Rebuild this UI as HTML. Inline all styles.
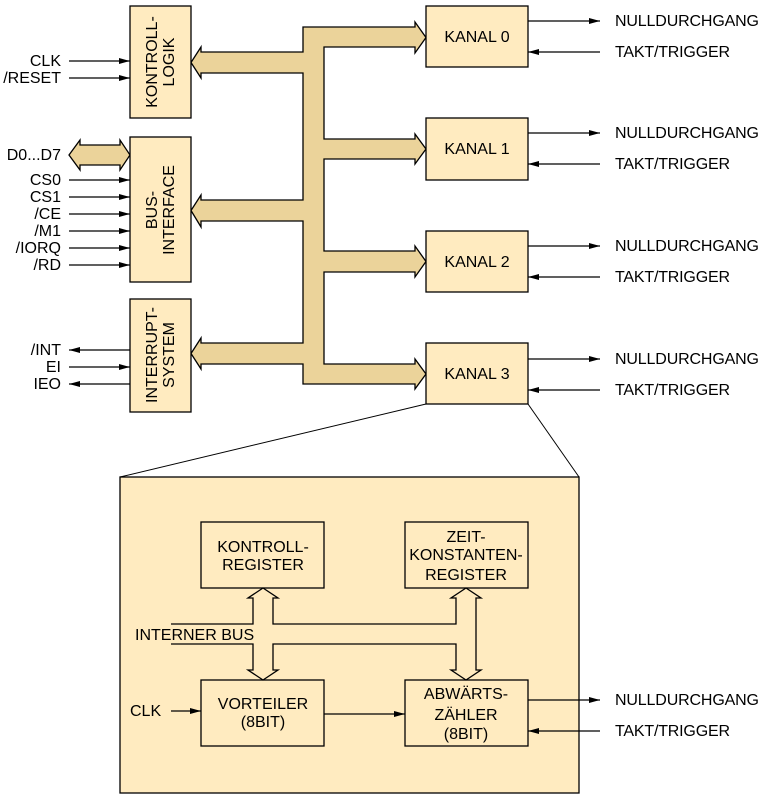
<!DOCTYPE html>
<html><head><meta charset="utf-8"><style>
html,body{margin:0;padding:0;background:#fff;}
svg{display:block;}
text{font-family:"Liberation Sans",Arial,sans-serif;font-size:16px;fill:#000;}
</style></head><body>
<svg width="764" height="804" viewBox="0 0 764 804" xmlns="http://www.w3.org/2000/svg">
<defs>
<marker id="ah" markerWidth="11" markerHeight="8" refX="11" refY="4" orient="auto" markerUnits="userSpaceOnUse">
<path d="M0,1 L11,4 L0,7 Z" fill="#000"/></marker>
</defs>
<g stroke="#000" stroke-width="1.3">
<path fill="#EBD39A" d="M303,27 H415 V22 L426,37.5 L415,53 V47 H324 V139 H415 V134 L426,149 L415,164 V159 H324 V251 H415 V246 L426,261.5 L415,277 V272 H324 V364 H415 V359 L426,374 L415,389 V384 H303 V364 H201 V369 L191,353.5 L201,338 V343 H303 V221 H201 V227 L191,210.5 L201,195 V200 H303 V73 H201 V78 L191,62.5 L201,47 V52 H303 Z"/>
<path fill="#EBD39A" d="M69,155 L80,140 V145 H120 V140 L130,155 L120,170 V165 H80 V170 Z"/>
<rect x="130" y="6" width="61" height="112" fill="#FFEBC0"/>
<rect x="130" y="137" width="61" height="145" fill="#FFEBC0"/>
<rect x="130" y="299" width="61" height="113" fill="#FFEBC0"/>
<rect x="426" y="6" width="102" height="61" fill="#FFEBC0"/>
<rect x="426" y="118" width="102" height="62" fill="#FFEBC0"/>
<rect x="426" y="231" width="102" height="61" fill="#FFEBC0"/>
<rect x="426" y="343" width="102" height="61" fill="#FFEBC0"/>
<line x1="426" y1="404" x2="120" y2="477" stroke-width="1"/>
<line x1="528" y1="404" x2="579" y2="477" stroke-width="1"/>
<rect x="120" y="477" width="459" height="316" fill="#FFEBC0"/>
<rect x="201" y="522" width="123" height="66" fill="#FFEBC0"/>
<rect x="405" y="522" width="123" height="66" fill="#FFEBC0"/>
<rect x="201" y="680" width="123" height="66" fill="#FFEBC0"/>
<rect x="405" y="680" width="123" height="66" fill="#FFEBC0"/>
<g fill="none">
<path d="M171,624 H253 V598 H248 L263,588 L278,598 H273 V624 H456 V598 H451 L466,588 L481,598 H476 V670 H481 L466,680 L451,670 H456 V644 H273 V670 H278 L263,680 L248,670 H253 V644 H171"/>
</g>
<g fill="none" marker-end="url(#ah)">
<line x1="69" y1="61" x2="130" y2="61"/>
<line x1="69" y1="78" x2="130" y2="78"/>
<line x1="69" y1="180" x2="130" y2="180"/>
<line x1="69" y1="197" x2="130" y2="197"/>
<line x1="69" y1="214" x2="130" y2="214"/>
<line x1="69" y1="231" x2="130" y2="231"/>
<line x1="69" y1="248" x2="130" y2="248"/>
<line x1="69" y1="265" x2="130" y2="265"/>
<line x1="130" y1="350" x2="69" y2="350"/>
<line x1="69" y1="367" x2="130" y2="367"/>
<line x1="130" y1="384" x2="69" y2="384"/>
<line x1="528" y1="21" x2="600" y2="21"/>
<line x1="600" y1="52" x2="528" y2="52"/>
<line x1="528" y1="133" x2="600" y2="133"/>
<line x1="600" y1="164" x2="528" y2="164"/>
<line x1="528" y1="246" x2="600" y2="246"/>
<line x1="600" y1="277" x2="528" y2="277"/>
<line x1="528" y1="359" x2="600" y2="359"/>
<line x1="600" y1="390" x2="528" y2="390"/>
<line x1="528" y1="700" x2="600" y2="700"/>
<line x1="600" y1="731" x2="528" y2="731"/>
<line x1="171" y1="711" x2="201" y2="711"/>
<line x1="324" y1="714" x2="405" y2="714"/>
</g>
</g>
<g text-anchor="end">
<text x="61" y="66">CLK</text>
<text x="61" y="83">/RESET</text>
<text x="61" y="160">D0...D7</text>
<text x="61" y="185">CS0</text>
<text x="61" y="202">CS1</text>
<text x="61" y="219">/CE</text>
<text x="61" y="236">/M1</text>
<text x="61" y="253">/IORQ</text>
<text x="61" y="270">/RD</text>
<text x="61" y="355">/INT</text>
<text x="61" y="372">EI</text>
<text x="61" y="389">IEO</text>
</g>
<g text-anchor="middle">
<text transform="translate(161,62) rotate(-90)" x="0" y="-4">KONTROLL-</text>
<text transform="translate(161,62) rotate(-90)" x="0" y="13">LOGIK</text>
<text transform="translate(161,210) rotate(-90)" x="0" y="-4">BUS-</text>
<text transform="translate(161,210) rotate(-90)" x="0" y="13">INTERFACE</text>
<text transform="translate(161,355) rotate(-90)" x="0" y="-4">INTERRUPT-</text>
<text transform="translate(161,355) rotate(-90)" x="0" y="13">SYSTEM</text>
<text x="477" y="42">KANAL 0</text>
<text x="477" y="154">KANAL 1</text>
<text x="477" y="267">KANAL 2</text>
<text x="477" y="379">KANAL 3</text>
<text x="263" y="552">KONTROLL-</text>
<text x="263" y="570">REGISTER</text>
<text x="466" y="542">ZEIT-</text>
<text x="466" y="560">KONSTANTEN-</text>
<text x="466" y="580">REGISTER</text>
<text x="263" y="709">VORTEILER</text>
<text x="263" y="727">(8BIT)</text>
<text x="466" y="699">ABWÄRTS-</text>
<text x="466" y="720">ZÄHLER</text>
<text x="466" y="739">(8BIT)</text>
</g>
<g>
<text x="615" y="26" textLength="144">NULLDURCHGANG</text>
<text x="615" y="57" textLength="115">TAKT/TRIGGER</text>
<text x="615" y="138" textLength="144">NULLDURCHGANG</text>
<text x="615" y="169" textLength="115">TAKT/TRIGGER</text>
<text x="615" y="251" textLength="144">NULLDURCHGANG</text>
<text x="615" y="282" textLength="115">TAKT/TRIGGER</text>
<text x="615" y="364" textLength="144">NULLDURCHGANG</text>
<text x="615" y="395" textLength="115">TAKT/TRIGGER</text>
<text x="615" y="705" textLength="144">NULLDURCHGANG</text>
<text x="615" y="736" textLength="115">TAKT/TRIGGER</text>
<text x="135" y="640">INTERNER BUS</text>
<text x="130" y="716">CLK</text>
</g>
</svg>
</body></html>
